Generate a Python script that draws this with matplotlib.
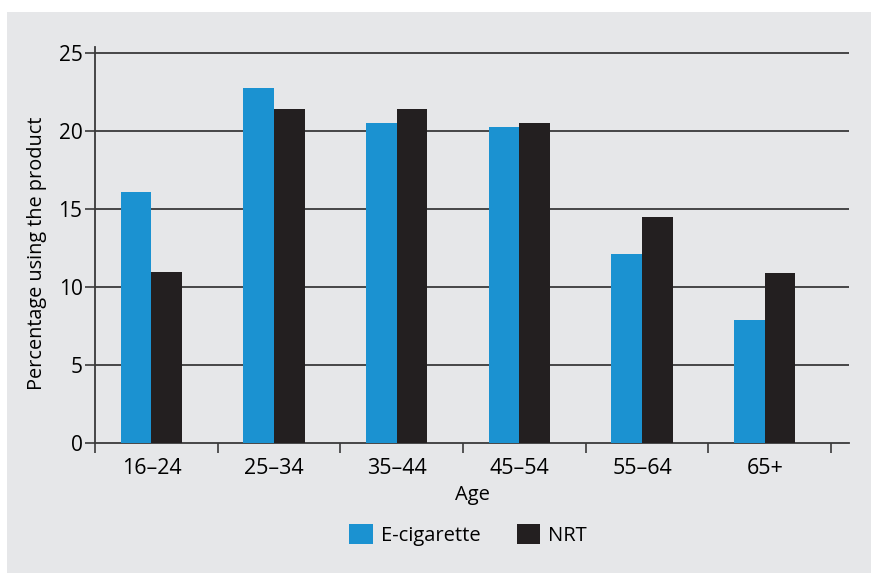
import numpy as np
from matplotlib import pyplot as plt
from matplotlib.patches import Rectangle

plt.rcParams['font.family'] = ['Open Sans', 'DejaVu Sans']

ages = ['16–24', '25–34', '35–44', '45–54', '55–64', '65+']
ecig = [16.1, 22.8, 20.5, 20.3, 12.1, 7.9]
nrt = [11.0, 21.4, 21.4, 20.5, 14.5, 10.9]

blue = '#1b92d1'
black = '#231f20'
bg = '#e6e7e9'
line = '#3a3a3a'

fig = plt.figure(figsize=(8.71, 5.73), dpi=100, facecolor='white')
fig.patches.append(Rectangle((7 / 871, 0), 1, 1 - 12 / 573, transform=fig.transFigure,
                             facecolor=bg, edgecolor='none', zorder=-10))

ax = fig.add_axes([95 / 871, 1 - 443 / 573, (849 - 95) / 871, (443 - 47) / 573])
ax.set_facecolor('none')

x = np.arange(len(ages))
w = 0.25
ax.bar(x + 0.21, ecig, width=w, align='edge', color=blue, label='E-cigarette', zorder=3)
ax.bar(x + 0.46, nrt, width=w, align='edge', color=black, label='NRT', zorder=3)

ax.set_xlim(0, 6.147)
ax.set_ylim(0, 25.4)

for v in [5, 10, 15, 20, 25]:
    ax.axhline(v, color=line, lw=1.3, zorder=1)

ax.set_yticks([0, 5, 10, 15, 20, 25])
ax.set_xticks(np.arange(7))
ax.set_xticklabels([])
ax.set_xticks(x + 0.46, minor=True)
ax.set_xticklabels(ages, minor=True)
ax.tick_params(axis='x', which='major', direction='out', length=7, width=1.2, color=line)
ax.tick_params(axis='x', which='minor', length=0, labelsize=15.5, pad=11)
ax.tick_params(axis='y', direction='out', length=7, width=1.2, color=line, labelsize=15, pad=2)

for s in ['top', 'right']:
    ax.spines[s].set_visible(False)
for s in ['left', 'bottom']:
    ax.spines[s].set_color(line)
    ax.spines[s].set_linewidth(1.3)

ax.set_ylabel('Percentage using the product', fontsize=14.3)
ax.yaxis.set_label_coords(-0.064, 0.479)
ax.set_xlabel('Age', fontsize=14.5, labelpad=4)

fig.legend(loc='center', bbox_to_anchor=(468 / 871, 1 - 535 / 573), ncol=2, frameon=False,
           fontsize=14.5, handlelength=1.15, handleheight=1.15, handletextpad=0.4, columnspacing=1.8)

fig.savefig('out.png', dpi=100, facecolor='white')
